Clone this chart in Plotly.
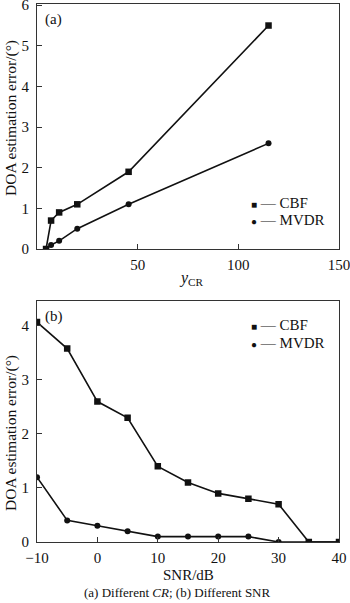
import plotly.graph_objects as go

# Panel (a): error vs gamma_CR
cr_x = [4.5, 7, 11, 20, 45.5, 115]
cr_cbf = [0.0, 0.7, 0.9, 1.1, 1.9, 5.5]
cr_mvdr = [0.0, 0.1, 0.2, 0.5, 1.1, 2.6]

# Panel (b): error vs SNR
snr_x = [-10, -5, 0, 5, 10, 15, 20, 25, 30, 35, 40]
snr_cbf = [4.07, 3.58, 2.6, 2.3, 1.4, 1.1, 0.9, 0.8, 0.7, 0.0, 0.0]
snr_mvdr = [1.2, 0.4, 0.3, 0.2, 0.1, 0.1, 0.1, 0.1, 0.0, 0.0, 0.0]

a_xticks = [50, 100, 150]
a_yticks = [0, 1, 2, 3, 4, 5, 6]
b_xticks = [-10, 0, 10, 20, 30, 40]
b_yticks = [0, 1, 2, 3, 4]

FONT = "Liberation Serif, Times New Roman, serif"
LC = "#111111"
AX = "#333333"

# plot area in pixels: top 4, bottom 542
H0, H1 = 4, 542
def py(pix):
    return (H1 - pix) / (H1 - H0)

fig = go.Figure()
fig.add_trace(go.Scatter(x=cr_x, y=cr_cbf, mode="lines+markers", line=dict(color=LC, width=1.6),
                         marker=dict(symbol="square", size=6.5, color=LC), xaxis="x", yaxis="y", showlegend=False))
fig.add_trace(go.Scatter(x=cr_x, y=cr_mvdr, mode="lines+markers", line=dict(color=LC, width=1.6),
                         marker=dict(symbol="circle", size=6, color=LC), xaxis="x", yaxis="y", showlegend=False))
fig.add_trace(go.Scatter(x=snr_x, y=snr_cbf, mode="lines+markers", line=dict(color=LC, width=1.6),
                         marker=dict(symbol="square", size=6.5, color=LC), xaxis="x2", yaxis="y2", showlegend=False))
fig.add_trace(go.Scatter(x=snr_x, y=snr_mvdr, mode="lines+markers", line=dict(color=LC, width=1.6),
                         marker=dict(symbol="circle", size=6, color=LC), xaxis="x2", yaxis="y2", showlegend=False))

axcommon = dict(showline=True, linecolor=AX, linewidth=1, mirror=True, ticks="inside", ticklen=5,
                tickcolor=AX, showgrid=False, zeroline=False, ticklabeloverflow="allow",
                tickfont=dict(family=FONT, size=15, color="#111"))

fig.update_layout(
    width=350, height=603,
    margin=dict(l=37, r=11, t=H0, b=603 - H1, autoexpand=False),
    paper_bgcolor="white", plot_bgcolor="white",
    font=dict(family=FONT, color="#111"),
    xaxis=dict(domain=[0, 1], range=[0, 150], tickvals=a_xticks, anchor="y", ticklabelstandoff=2, **axcommon),
    yaxis=dict(domain=[py(249), 1], range=[0, 6.03], tickvals=a_yticks, anchor="x", ticklabelstandoff=4, **axcommon),
    xaxis2=dict(domain=[0, 1], range=[-10, 40], tickvals=b_xticks, anchor="y2", ticklabelstandoff=2, **axcommon),
    yaxis2=dict(domain=[0, py(300.5)], range=[0, 4.47], tickvals=b_yticks, anchor="x2", ticklabelstandoff=4, **axcommon),
)

ann = []
def add(text, xpix, ypix, size, angle=0, xanchor="center"):
    ann.append(dict(text=text, xref="paper", yref="paper", x=0, xshift=xpix - 37, y=py(ypix),
                    xanchor=xanchor, yanchor="middle", textangle=angle, showarrow=False,
                    font=dict(family=FONT, size=size, color="#111")))

# y titles
add("DOA estimation error/(°)", 11, 118, 15.5, angle=-90)
add("DOA estimation error/(°)", 11, 433, 15.5, angle=-90)
# x titles
add("<i>y</i><sub>CR</sub>", 191, 278, 16)
add("SNR/dB", 188, 575, 15)
# caption
add("(a) Different <i>CR</i>; (b) Different SNR", 177, 592, 13)
# panel labels
add("(a)", 43, 19, 15, xanchor="left")
add("(b)", 43, 316, 15, xanchor="left")
# legends
legend_names = ["CBF", "MVDR"]
legend_syms = ["■", "●"]
for i, (s, n) in enumerate(zip(legend_syms, legend_names)):
    txt = f"<span style='font-size:10px'>{s}</span> — {n}"
    add(txt, 249, 203 + 17 * i, 15, xanchor="left")
    add(txt, 249, 325 + 18 * i, 15, xanchor="left")
fig.update_layout(annotations=ann)

fig.write_html("out.html")
